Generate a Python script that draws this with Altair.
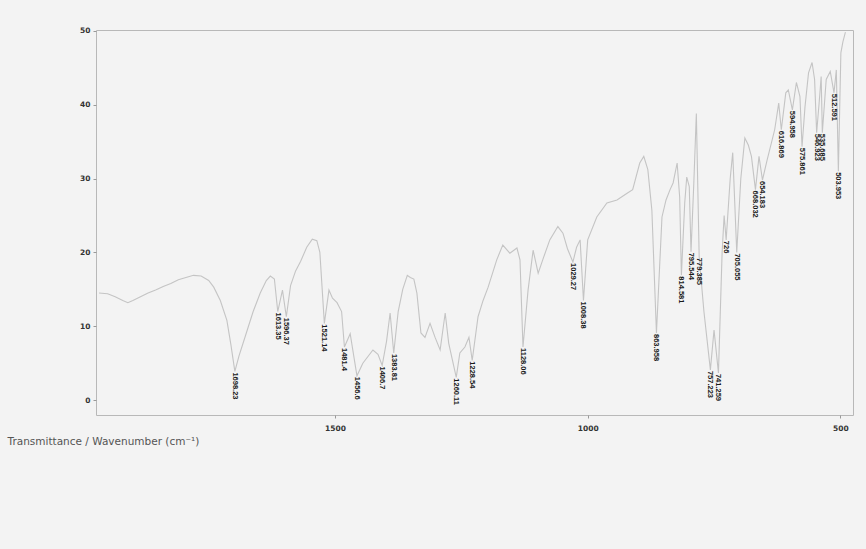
import altair as alt
import pandas as pd

# IR spectrum: wavenumber (cm-1) and transmittance (%)
wavenumber = [
    1967, 1950, 1935, 1920, 1910, 1900, 1885, 1870, 1855, 1840, 1825, 1810, 1795,
    1780, 1765, 1750, 1740, 1727, 1714, 1706, 1698.23, 1690, 1676, 1662, 1648,
    1636, 1628, 1620, 1613.35, 1604, 1596.37, 1588, 1578, 1568, 1556, 1545, 1536,
    1530, 1521.14, 1512, 1505, 1496, 1487, 1481.4, 1470, 1456.6, 1445, 1425, 1415,
    1406.7, 1398, 1391, 1383.81, 1375, 1366, 1357, 1351, 1344, 1338, 1330, 1322,
    1312, 1302, 1292, 1282, 1275, 1260.11, 1253, 1243, 1235, 1228.54, 1217, 1207,
    1197, 1180, 1168, 1154, 1140, 1134, 1128.06, 1118, 1108, 1098, 1089, 1075,
    1059, 1049, 1040, 1029.27, 1022, 1015, 1008.38, 1000, 982, 962, 942, 922, 911,
    897, 889, 881, 873, 863.958, 853, 845, 837, 831, 823, 818, 814.581, 808, 804,
    799, 795.544, 790, 785, 779.385, 770, 757.223, 750, 741.259, 734, 730, 726,
    718, 713, 705.055, 697, 689, 682, 676, 668.032, 661, 654.183, 645, 630, 622,
    616.869, 608, 603, 594.958, 587, 580, 575.861, 570, 563, 556, 551, 546.923,
    541, 538, 535.685, 528, 520, 512.591, 508, 503.953, 499, 495, 490,
]
transmittance = [
    14.5, 14.4, 14.0, 13.5, 13.2, 13.5, 14.0, 14.5, 14.9, 15.4, 15.8, 16.3, 16.6,
    16.9, 16.8, 16.2, 15.3, 13.5, 10.8, 7.5, 3.9, 6.0, 9.0, 12.0, 14.5,
    16.2, 16.8, 16.4, 12.0, 14.9, 11.3, 15.5, 17.5, 18.8, 20.7, 21.8, 21.6,
    20.0, 10.4, 14.9, 13.8, 13.2, 12.0, 7.2, 9.0, 3.3, 5.0, 6.8, 6.2,
    4.7, 8.0, 11.8, 6.4, 12.0, 15.0, 16.9, 16.6, 16.4, 14.5, 9.1, 8.5,
    10.4, 8.5, 6.8, 11.8, 7.7, 3.1, 6.4, 7.2, 8.5, 5.4, 11.3, 13.5,
    15.3, 19.0, 21.0, 19.9, 20.6, 19.0, 7.2, 14.9, 20.3, 17.2, 19.0, 21.7,
    23.5, 22.6, 20.5, 18.7, 20.7, 21.7, 13.5, 21.7, 24.8, 26.7, 27.1, 28.0, 28.5,
    32.1, 33.0, 31.2, 25.7, 9.1, 24.8, 27.1, 28.5, 29.4, 32.1, 27.5, 16.9, 26.7, 30.2,
    28.9, 20.1, 29.4, 38.8, 19.4, 12.0, 4.1, 9.5, 3.7, 20.0, 25.0, 21.7,
    30.0, 33.5, 20.0, 30.0, 35.5, 34.5, 33.0, 28.5, 33.0, 29.8, 32.5, 36.6, 40.2,
    36.6, 41.6, 42.0, 39.3, 43.0, 41.1, 34.3, 39.7, 44.3, 45.7, 43.4, 36.2,
    41.1, 43.8, 36.2, 43.4, 44.5, 41.6, 44.7, 31.0, 47.0, 48.5, 49.8,
]

# Picked peaks
peak_wn = [
    1698.23, 1613.35, 1596.37, 1521.14, 1481.4, 1456.6, 1406.7, 1383.81, 1260.11,
    1228.54, 1128.06, 1029.27, 1008.38, 863.958, 814.581, 795.544, 779.385,
    757.223, 741.259, 726, 705.055, 668.032, 654.183, 616.869, 594.958, 575.861,
    546.923, 535.685, 512.591, 503.953,
]
peak_labels = [
    "1698.23", "1613.35", "1596.37", "1521.14", "1481.4", "1456.6", "1406.7",
    "1383.81", "1260.11", "1228.54", "1128.06", "1029.27", "1008.38", "863.958",
    "814.581", "795.544", "779.385", "757.223", "741.259", "726", "705.055",
    "668.032", "654.183", "616.869", "594.958", "575.861", "546.923", "535.685",
    "512.591", "503.953",
]

spec = pd.DataFrame({"wn": wavenumber, "t": transmittance})
lookup = dict(zip(wavenumber, transmittance))
peaks = pd.DataFrame({
    "wn": peak_wn,
    "t": [lookup[w] for w in peak_wn],
    "label": peak_labels,
})

x_scale = alt.Scale(domain=[475, 1973], reverse=True, nice=False, zero=False)
y_scale = alt.Scale(domain=[-2, 50.1], nice=False, zero=False)

x_axis = alt.Axis(values=[1500, 1000, 500], format="d", title=None, grid=False,
                  domain=False, tickSize=3, tickColor="#999999", labelPadding=6)
y_axis = alt.Axis(values=[0, 10, 20, 30, 40, 50], format="d", title=None,
                  grid=False, domain=False, tickSize=3, tickColor="#999999",
                  labelPadding=3)

line = alt.Chart(spec).mark_line(color="#c4c4c4", strokeWidth=1.1).encode(
    x=alt.X("wn:Q", scale=x_scale, axis=x_axis),
    y=alt.Y("t:Q", scale=y_scale, axis=y_axis),
    order=alt.Order("wn:Q", sort="descending"),
)

labels = alt.Chart(peaks).mark_text(
    angle=90, align="left", baseline="middle", dx=1,
    font="Liberation Sans", fontWeight="bold", fontSize=7.5, color="#1a1a1a",
).encode(
    x=alt.X("wn:Q", scale=x_scale),
    y=alt.Y("t:Q", scale=y_scale),
    text="label:N",
)

chart = alt.layer(line, labels).properties(
    width=757,
    height=385,
    autosize=alt.AutoSizeParams(type="none"),
    padding={"left": 96, "top": 30, "right": 13, "bottom": 134},
    background="#f3f3f3",
    title=alt.TitleParams(
        "Transmittance / Wavenumber (cm⁻¹)",
        orient="bottom", anchor="start", dx=-72, offset=5,
        font="DejaVu Sans", fontSize=10.5, fontWeight="normal", color="#555555",
    ),
).configure_view(
    stroke="#b8b8b8", strokeWidth=1, fill="#f3f3f3",
).configure_axis(
    labelFont="DejaVu Sans", labelFontSize=7.5, labelFontWeight="bold",
    labelColor="#333333",
)

chart.save("out.html", embed_options={"renderer": "svg", "actions": False})
